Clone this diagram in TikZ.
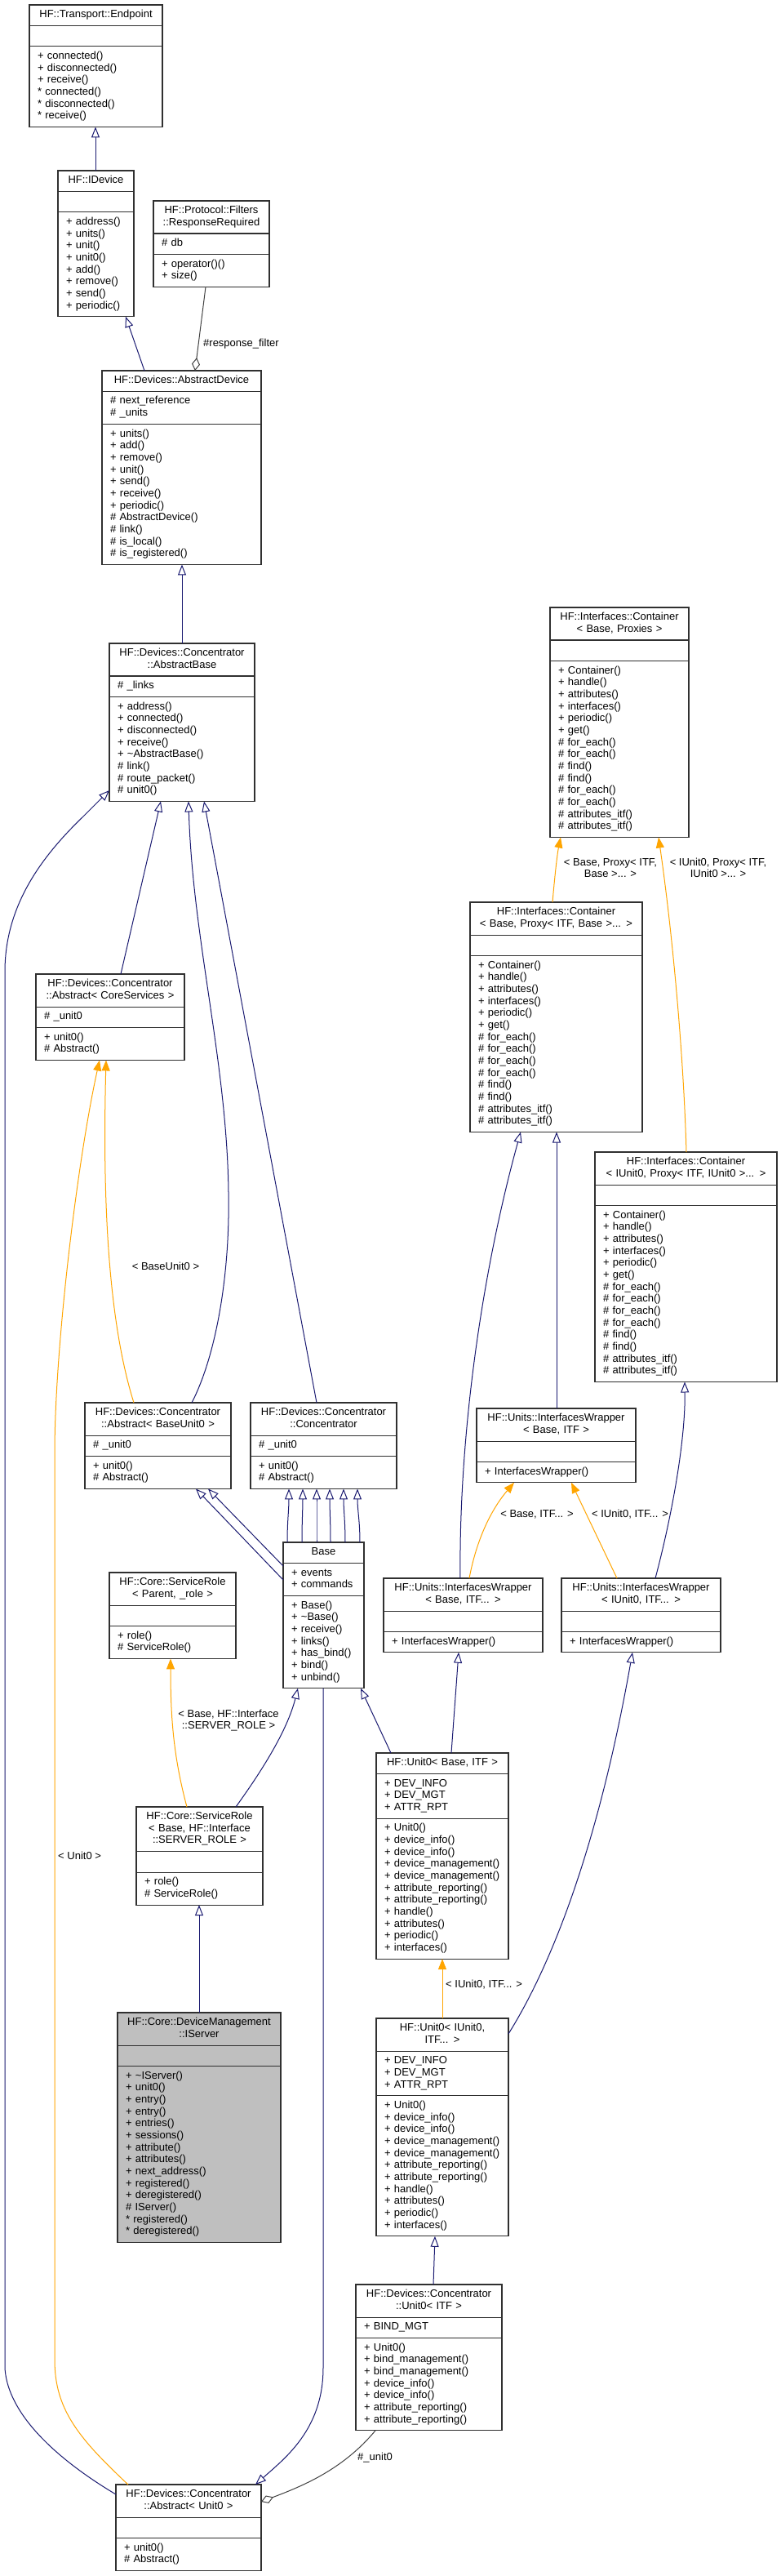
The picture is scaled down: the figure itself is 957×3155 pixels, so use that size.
\documentclass[tikz,border=0pt]{standalone}
\usepackage{fontspec}
\setmainfont{Liberation Sans}
\usetikzlibrary{arrows.meta,fit}
\definecolor{inhc}{HTML}{191970}
\definecolor{tplc}{HTML}{FFA500}
\definecolor{usec}{HTML}{404040}
\definecolor{boxc}{HTML}{303030}
\definecolor{selc}{HTML}{BFBFBF}
\tikzset{
  secbox/.style={draw=boxc, line width=1.1pt, inner xsep=10pt, inner ysep=5.35pt, outer sep=0pt,
    minimum height=0pt, font=\fontsize{13pt}{14.67pt}\selectfont,
    execute at begin node=\strut, execute at end node=\strut},
  lbl/.style={inner sep=0pt, align=center, font=\fontsize{13pt}{14.67pt}\selectfont},
  inh/.style={draw=inhc, line width=1pt, -{Triangle[length=13pt,width=10pt,fill=white]}},
  tpl/.style={draw=tplc, line width=1pt, -{Triangle[length=13pt,width=10pt]}},
  usg/.style={draw=usec, line width=1pt, -{Diamond[length=16pt,width=10pt,fill=white]}}
}
% [fill]{name}{width}{x,y of top-left}{title}{attributes}{methods}
\newcommand\umlcls[7][white]{%
  \pgfmathsetmacro\umlTW{#3-20}%
  \node[secbox, fill=#1, text width=\umlTW pt, align=center, anchor=north west] (#2-t) at (#4) {#5};
  \node[secbox, fill=#1, text width=\umlTW pt, align=left, anchor=north west] (#2-a) at (#2-t.south west) {#6};
  \node[secbox, fill=#1, text width=\umlTW pt, align=left, anchor=north west] (#2-m) at (#2-a.south west) {#7};
  \node[fit=(#2-t)(#2-m), inner sep=0pt, outer sep=0pt] (#2) {};
}
\newcommand\ContMethodsA{+ Container()\\+ handle()\\+ attributes()\\+ interfaces()\\+ periodic()\\+ get()\\\# for\_each()\\\# for\_each()\\\# find()\\\# find()\\\# for\_each()\\\# for\_each()\\\# attributes\_itf()\\\# attributes\_itf()}
\newcommand\ContMethodsB{+ Container()\\+ handle()\\+ attributes()\\+ interfaces()\\+ periodic()\\+ get()\\\# for\_each()\\\# for\_each()\\\# for\_each()\\\# for\_each()\\\# find()\\\# find()\\\# attributes\_itf()\\\# attributes\_itf()}
\newcommand\UnitAttrs{+ DEV\_INFO\\+ DEV\_MGT\\+ ATTR\_RPT}
\newcommand\UnitMethods{+ Unit0()\\+ device\_info()\\+ device\_info()\\+ device\_management()\\+ device\_management()\\+ attribute\_reporting()\\+ attribute\_reporting()\\+ handle()\\+ attributes()\\+ periodic()\\+ interfaces()}
\begin{document}
\begin{tikzpicture}[x=1pt,y=-1pt]
\fill[white] (0,0) rectangle (957,3155);
\useasboundingbox (0,0) rectangle (957,3155);

% ---------- classes ----------
\umlcls{EP}{163}{36,6}{HF::Transport::Endpoint}{}{+ connected()\\+ disconnected()\\+ receive()\\{}* connected()\\{}* disconnected()\\{}* receive()}
\umlcls{ID}{93}{71,209}{HF::IDevice}{}{+ address()\\+ units()\\+ unit()\\+ unit0()\\+ add()\\+ remove()\\+ send()\\+ periodic()}
\umlcls{RR}{142}{188,246}{HF::Protocol::Filters\\::ResponseRequired}{\# db}{+ operator()()\\+ size()}
\umlcls{AD}{195}{125,454}{HF::Devices::AbstractDevice}{\# next\_reference\\\# \_units}{+ units()\\+ add()\\+ remove()\\+ unit()\\+ send()\\+ receive()\\+ periodic()\\\# AbstractDevice()\\\# link()\\\# is\_local()\\\# is\_registered()}
\umlcls{AB}{178}{134,788}{HF::Devices::Concentrator\\::AbstractBase}{\# \_links}{+ address()\\+ connected()\\+ disconnected()\\+ receive()\\+ \textasciitilde AbstractBase()\\\# link()\\\# route\_packet()\\\# unit0()}
\umlcls{C1}{170}{674,744}{HF::Interfaces::Container\\< Base, Proxies >}{}{\ContMethodsA}
\umlcls{C2}{211}{576,1105}{HF::Interfaces::Container\\< Base, Proxy< ITF, Base >... >}{}{\ContMethodsB}
\umlcls{C3}{223}{729,1411}{HF::Interfaces::Container\\< IUnit0, Proxy< ITF, IUnit0 >... >}{}{\ContMethodsB}
\umlcls{ACS}{182}{44,1193}{HF::Devices::Concentrator\\::Abstract< CoreServices >}{\# \_unit0}{+ unit0()\\\# Abstract()}
\umlcls{ABU}{179}{104,1718}{HF::Devices::Concentrator\\::Abstract< BaseUnit0 >}{\# \_unit0}{+ unit0()\\\# Abstract()}
\umlcls{CC}{179}{307,1718}{HF::Devices::Concentrator\\::Concentrator}{\# \_unit0}{+ unit0()\\\# Abstract()}
\umlcls{IW1}{195}{584,1725}{HF::Units::InterfacesWrapper\\< Base, ITF >}{}{+ InterfacesWrapper()}
\umlcls{SRP}{155}{134,1926}{HF::Core::ServiceRole\\< Parent, \_role >}{}{+ role()\\\# ServiceRole()}
\umlcls{BASE}{99}{347,1889}{Base}{+ events\\+ commands}{+ Base()\\+ \textasciitilde Base()\\+ receive()\\+ links()\\+ has\_bind()\\+ bind()\\+ unbind()}
\umlcls{IW2}{195}{470,1933}{HF::Units::InterfacesWrapper\\< Base, ITF... >}{}{+ InterfacesWrapper()}
\umlcls{IW3}{195}{688,1933}{HF::Units::InterfacesWrapper\\< IUnit0, ITF... >}{}{+ InterfacesWrapper()}
\umlcls{SRB}{155}{167,2213}{HF::Core::ServiceRole\\< Base, HF::Interface\\::SERVER\_ROLE >}{}{+ role()\\\# ServiceRole()}
\umlcls[selc]{IS}{200}{144,2465}{HF::Core::DeviceManagement\\::IServer}{}{+ \textasciitilde IServer()\\+ unit0()\\+ entry()\\+ entry()\\+ entries()\\+ sessions()\\+ attribute()\\+ attributes()\\+ next\_address()\\+ registered()\\+ deregistered()\\\# IServer()\\{}* registered()\\{}* deregistered()}
\umlcls{U0B}{162}{461,2147}{HF::Unit0< Base, ITF >}{\UnitAttrs}{\UnitMethods}
\umlcls{U0I}{162}{461,2472}{HF::Unit0< IUnit0,\\ITF... >}{\UnitAttrs}{\UnitMethods}
\umlcls{CU0}{179}{436,2798}{HF::Devices::Concentrator\\::Unit0< ITF >}{+ BIND\_MGT}{+ Unit0()\\+ bind\_management()\\+ bind\_management()\\+ device\_info()\\+ device\_info()\\+ attribute\_reporting()\\+ attribute\_reporting()}
\umlcls{AU0}{178}{142,3043}{HF::Devices::Concentrator\\::Abstract< Unit0 >}{}{+ unit0()\\\# Abstract()}

% ---------- connectors ----------
\draw[inh] ([xshift=46pt]ID.north west) -- ([xshift=81pt]EP.south west);
\draw[inh] ([xshift=52pt]AD.north west) -- ([xshift=83pt]ID.south west);
\draw[usg] ([xshift=64pt]RR.south west) -- ([xshift=114pt]AD.north west);
\node[lbl, anchor=west] (lrf) at (249,421) {\#response\_filter};
\draw[inh] ([xshift=89pt]AB.north west) -- ([xshift=98pt]AD.south west);

\draw[inh] ([xshift=104pt]ACS.north west) -- ([xshift=63pt]AB.south west);
\draw[inh] ([xshift=131pt]ABU.north west) .. controls (265,1660) and (282,1560) .. (280,1460)
   .. controls (278,1300) and (236,1150) .. ([xshift=97pt]AB.south west);
\draw[inh] ([xshift=81pt]CC.north west) -- ([xshift=116pt]AB.south west);
\draw[inh] ([yshift=-12pt]AU0.north west) .. controls (100,3030) and (10,2970) .. (6,2900)
   -- (6,1190) .. controls (6,1110) and (50,1050) .. (102,1000) -- ([yshift=-180pt]AB.north west);

\draw[tpl] ([xshift=60pt]ABU.north west) .. controls (130,1610) and (126,1450) .. ([xshift=86pt]ACS.south west);
\node[lbl] (lbu) at (203,1551) {< BaseUnit0 >};
\draw[tpl] ([xshift=15pt]AU0.north west) .. controls (95,2985) and (67,2950) .. (67,2890)
   -- (67,1780) .. controls (67,1650) and (95,1420) .. ([xshift=78pt]ACS.south west);
\node[lbl, anchor=west] (lu0) at (71,2273) {< Unit0 >};

\draw[inh] ([yshift=-46pt]BASE.north west) -- ([xshift=136pt]ABU.south west);
\draw[inh] ([yshift=-29pt]BASE.north west) -- ([xshift=151pt]ABU.south west);
\foreach \bx/\cx in {5/47,23/64,41/81,58/97,76/114,94/131}{
  \draw[inh] ([xshift=\bx pt]BASE.north west) to[out=90,in=-90] ([xshift=\cx pt]CC.south west);
}
\draw[inh] ([xshift=49pt]BASE.south west) -- (396,2900) .. controls (396,2975) and (350,3010) .. ([xshift=171pt]AU0.north west);

\draw[tpl] ([xshift=62pt]SRB.north west) .. controls (212,2150) and (209,2100) .. ([xshift=75pt]SRP.south west);
\node[lbl] (lsr) at (280,2107) {< Base, HF::Interface\\::SERVER\_ROLE >};
\draw[inh] ([xshift=122pt]SRB.north west) .. controls (320,2170) and (352,2120) .. ([xshift=18pt]BASE.south west);
\draw[inh] ([xshift=100pt]IS.north west) -- ([xshift=77pt]SRB.south west);

\draw[inh] ([xshift=18pt]U0B.north west) -- ([xshift=95pt]BASE.south west);
\draw[inh] ([xshift=92pt]U0B.north west) -- ([xshift=92pt]IW2.south west);
\draw[tpl] ([xshift=81pt]U0I.north west) -- ([xshift=81pt]U0B.south west);
\node[lbl, anchor=west] (liu) at (546,2431) {< IUnit0, ITF... >};
\draw[inh] ([yshift=-19pt]U0I.north east) .. controls (680,2400) and (735,2250) .. ([xshift=87pt]IW3.south west);
\draw[inh] ([xshift=95pt]CU0.north west) -- ([xshift=72pt]U0I.south west);
\draw[usg] ([xshift=24pt]CU0.south west) .. controls (420,3025) and (370,3045) .. ([yshift=-21pt]AU0.north east);
\node[lbl, anchor=west] (lun) at (438,3010) {\#\_unit0};

\draw[inh] ([xshift=98pt]IW1.north west) -- ([xshift=106pt]C2.south west);
\draw[inh] ([xshift=94pt]IW2.north west) .. controls (562,1760) and (590,1560) .. ([xshift=62pt]C2.south west);
\draw[tpl] ([xshift=105pt]IW2.north west) .. controls (585,1880) and (605,1845) .. ([xshift=46pt]IW1.south west);
\node[lbl] (lbi) at (658,1855) {< Base, ITF... >};
\draw[tpl] ([xshift=68pt]IW3.north west) -- ([xshift=116pt]IW1.south west);
\node[lbl] (lii) at (772,1855) {< IUnit0, ITF... >};
\draw[inh] ([xshift=115pt]IW3.north west) .. controls (825,1850) and (840,1760) .. ([xshift=110pt]C3.south west);

\draw[tpl] ([xshift=101pt]C2.north west) .. controls (680,1070) and (683,1045) .. ([xshift=13pt]C1.south west);
\node[lbl] (lc2) at (748,1063) {< Base, Proxy< ITF,\\Base >... >};
\draw[tpl] ([xshift=112pt]C3.north west) .. controls (838,1300) and (825,1150) .. ([xshift=133pt]C1.south west);
\node[lbl] (lc3) at (880,1063) {< IUnit0, Proxy< ITF,\\IUnit0 >... >};
\end{tikzpicture}
\end{document}
